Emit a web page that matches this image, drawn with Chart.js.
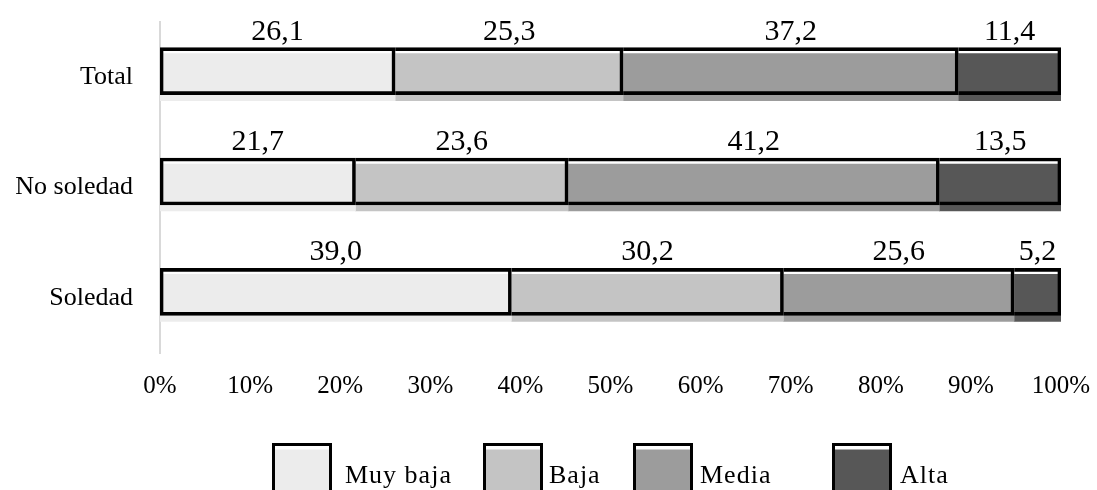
<!DOCTYPE html>
<html>
<head>
<meta charset="utf-8">
<script src="https://cdn.jsdelivr.net/npm/chart.js@4/dist/chart.umd.min.js"></script>
<style>
  html, body { margin: 0; padding: 0; background: #fff; }
  #wrap { width: 1097px; height: 490px; position: relative; }
</style>
</head>
<body>
<div id="wrap"><canvas id="chart"></canvas></div>
<script>
// Datos del gráfico (porcentajes por nivel)
const categorias = ['Total', 'No soledad', 'Soledad'];
const niveles = ['Muy baja', 'Baja', 'Media', 'Alta'];
const muyBaja = [26.1, 21.7, 39.0];
const baja = [25.3, 23.6, 30.2];
const media = [37.2, 41.2, 25.6];
const alta = [11.4, 13.5, 5.2];
const colores = ['#ececec', '#c4c4c4', '#9c9c9c', '#575757'];
const ticksX = [0, 10, 20, 30, 40, 50, 60, 70, 80, 90, 100];

const series = [muyBaja, baja, media, alta];
const FUENTE = '"Liberation Serif", "Times New Roman", serif';

// Relleno + contorno negro (misma barra, el contorno se desplaza hacia arriba)
const datasets = [];
series.forEach((valores, i) => {
    datasets.push({
        label: niveles[i],
        data: valores,
        stack: 'relleno',
        grouped: false,
        backgroundColor: colores[i],
        borderWidth: 0,
        barThickness: 47,
        order: 2,
        capa: 'relleno'
    });
});
series.forEach((valores, i) => {
    datasets.push({
        label: niveles[i] + ' borde',
        data: valores,
        stack: 'borde',
        grouped: false,
        backgroundColor: 'transparent',
        borderColor: '#000',
        borderSkipped: false,
        borderWidth: { top: 3, bottom: 3, right: 3, left: i === 0 ? 3 : 0 },
        barThickness: 47,
        order: 1,
        capa: 'borde'
    });
});

// Desplaza el contorno unos píxeles hacia arriba
const desplazamiento = {
    id: 'desplazamiento',
    beforeDatasetDraw(chart, args) {
        if (args.meta._dataset.capa === 'borde') {
            chart.ctx.save();
            chart.ctx.translate(0, -6);
        }
    },
    afterDatasetDraw(chart, args) {
        if (args.meta._dataset.capa === 'borde') chart.ctx.restore();
    }
};

// Etiquetas de valor encima de cada segmento
const etiquetas = {
    id: 'etiquetas',
    afterDatasetsDraw(chart) {
        const ctx = chart.ctx;
        ctx.save();
        ctx.font = '30px ' + FUENTE;
        ctx.fillStyle = '#000';
        ctx.textAlign = 'center';
        ctx.textBaseline = 'alphabetic';
        chart.data.datasets.forEach((ds, di) => {
            if (ds.capa !== 'relleno') return;
            chart.getDatasetMeta(di).data.forEach((bar, j) => {
                const p = bar.getProps(['x', 'y', 'base', 'height'], true);
                const cx = (p.x + p.base) / 2;
                const top = p.y - p.height / 2 - 6;
                ctx.fillText(ds.data[j].toFixed(1).replace('.', ','), cx, top - 8);
            });
        });
        ctx.restore();
    }
};

// Leyenda inferior con cajas grandes
const leyendaX = [272, 483, 633, 832];
const leyenda = {
    id: 'leyenda',
    afterDraw(chart) {
        const ctx = chart.ctx;
        ctx.save();
        ctx.font = '26px ' + FUENTE;
        ctx.letterSpacing = '1px';
        const caja = 60;
        const huecos = [13, 6, 7, 8];
        const y = 443;
        niveles.forEach((t, i) => {
            const x = leyendaX[i];
            ctx.fillStyle = colores[i];
            ctx.fillRect(x, y, caja, 60);
            ctx.fillStyle = '#fff';
            ctx.fillRect(x + 1.5, y + 1.5, caja - 3, 5);
            ctx.strokeStyle = '#000';
            ctx.lineWidth = 3;
            ctx.strokeRect(x + 1.5, y + 1.5, caja - 3, 60);
            ctx.fillStyle = '#000';
            ctx.textAlign = 'left';
            ctx.textBaseline = 'alphabetic';
            ctx.fillText(t, x + caja + huecos[i], 483);
        });
        ctx.restore();
    }
};

new Chart(document.getElementById('chart'), {
    type: 'bar',
    data: { labels: categorias, datasets: datasets },
    options: {
        indexAxis: 'y',
        responsive: true,
        maintainAspectRatio: false,
        animation: false,
        layout: { padding: { top: 22, right: 36, left: 0, bottom: 0 } },
        scales: {
            x: {
                stacked: true,
                min: 0,
                max: 100,
                afterBuildTicks(scale) {
                    scale.ticks = ticksX.map(v => ({ value: v }));
                },
                afterFit(scale) {
                    scale.height = 137;
                    scale.paddingLeft = 0;
                    scale.paddingRight = 0;
                },
                grid: { display: false, drawTicks: false },
                border: { display: false },
                ticks: {
                    padding: 18,
                    color: '#000',
                    font: { family: FUENTE, size: 25 },
                    callback: v => v + '%'
                }
            },
            y: {
                stacked: true,
                afterFit(scale) {
                    scale.width = 160;
                    scale.paddingTop = 0;
                    scale.paddingBottom = 0;
                },
                grid: { display: false, drawTicks: false },
                border: { display: true, color: '#d9d9d9', width: 2 },
                ticks: {
                    padding: 27,
                    color: '#000',
                    font: { family: FUENTE, size: 26 }
                }
            }
        },
        plugins: {
            legend: { display: false },
            tooltip: { enabled: false }
        }
    },
    plugins: [desplazamiento, etiquetas, leyenda]
});
</script>
</body>
</html>
